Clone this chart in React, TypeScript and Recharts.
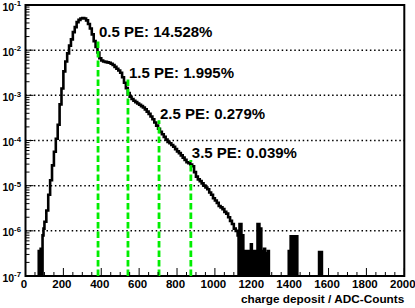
import React from 'react';
import { ComposedChart, Line, XAxis, YAxis, ReferenceLine, ReferenceArea, ReferenceDot } from 'recharts';

const FONT = '"Liberation Sans", Arial, Helvetica, sans-serif';

// Histogram contents as log10 of the normalised bin content (null = empty bin).
// Smooth body: 10-unit bins from 100 to 1110.
const MAIN_START = 100;
const MAIN_WIDTH = 10;
const mainBinsLog10: (number | null)[] = [
  -5.8, -5.55, -5.2, -4.88, -4.55, -4.25,
  -3.96, -3.65, -3.2, -2.85, -2.47, -2.25, -2.07, -1.9, -1.76, -1.6,
  -1.49, -1.38, -1.33, -1.3, -1.29, -1.3, -1.34, -1.42, -1.52, -1.65,
  -1.8, -1.93, -2.05, -2.18, -2.23, -2.25, -2.26, -2.27, -2.28, -2.3,
  -2.33, -2.37, -2.41, -2.45, -2.5, -2.6, -2.72, -2.84, -2.95, -3.03,
  -3.08, -3.12, -3.15, -3.18, -3.21, -3.24, -3.27, -3.31, -3.36, -3.41,
  -3.47, -3.53, -3.6, -3.67, -3.74, -3.81, -3.86, -3.92, -3.98, -4.03,
  -4.06, -4.1, -4.14, -4.19, -4.24, -4.28, -4.33, -4.38, -4.43, -4.48,
  -4.5, -4.53, -4.57, -4.7, -4.8, -4.86, -4.9, -4.95, -5.0, -5.04,
  -5.08, -5.15, -5.2, -5.28, -5.33, -5.38, -5.45, -5.48, -5.52, -5.58,
  -5.62, -5.7, -5.78, -5.85, -5.95, -6.0,
];
// Low-statistics regions: 5-unit bins
const FINE_WIDTH = 5;
const leftFineStart = 70;
const leftFineLog10: (number | null)[] = [-6.45, null, -6.4, null, -6.1, -5.95];
const tailFineStart = 1120;
const tailFineLog10: (number | null)[] = [
  -6.1, null, -5.85, -5.85, null, -6.1, null, -6.45, null, null,
  -6.45, null, -6.45, null, -6.3, null, -6.45, null, -6.45, null,
  null, -5.85, -5.85, null, -5.95, null, -6.45, null, -6.4, null,
  -6.5, null, -6.45, null,
];
const farTail1Start = 1390;
const farTail1Log10: (number | null)[] = [-6.45, null, -6.12, null, -6.12, null, -6.12, null, -6.12, null];
const farTail2Start = 1550;
const farTail2Log10: (number | null)[] = [-6.47, null, -6.47, null];

// photo-electron thresholds
const peCuts = [383, 541, 705, 873];
const peTopsLog10 = [-1.75, -2.64, -3.55, -4.43];
const peLabels = ['0.5 PE: 14.528%', '1.5 PE: 1.995%', '2.5 PE: 0.279%', '3.5 PE: 0.039%'];

const X_MIN = 0;
const X_MAX = 2000;
const xLabelTicks = [0, 200, 400, 600, 800, 1000, 1200, 1400, 1600, 1800, 2000];
const X_MINOR_STEP = 50;
const yDecades = [-7, -6, -5, -4, -3, -2, -1];
const yMinorMultipliers = [2, 3, 4, 5, 6, 7, 8, 9];
const gridDecades = [-6, -5, -4, -3, -2];
const X_TITLE = 'charge deposit / ADC-Counts';

const EMPTY = 1e-12;
const toVal = (L: number | null) => (L === null ? EMPTY : Math.pow(10, L));

const hist: { x: number; v: number }[] = [{ x: X_MIN, v: EMPTY }];
const addSeg = (start: number, width: number, vals: (number | null)[]) =>
  vals.forEach((L, i) => hist.push({ x: start + i * width, v: toVal(L) }));
addSeg(leftFineStart, FINE_WIDTH, leftFineLog10);
addSeg(MAIN_START, MAIN_WIDTH, mainBinsLog10);
addSeg(tailFineStart, FINE_WIDTH, tailFineLog10);
addSeg(farTail1Start, FINE_WIDTH, farTail1Log10);
addSeg(farTail2Start, FINE_WIDTH, farTail2Log10);
hist.push({ x: X_MAX, v: EMPTY });

const xTicks: number[] = [];
for (let v = X_MIN; v <= X_MAX; v += X_MINOR_STEP) xTicks.push(v);
const yTicks: number[] = [];
yDecades.forEach((d) => {
  yTicks.push(Math.pow(10, d));
  if (d < -1) yMinorMultipliers.forEach((m) => yTicks.push(m * Math.pow(10, d)));
});

const XTick = (props: any) => {
  const { x, y, payload } = props;
  const v = payload.value;
  const major = xLabelTicks.includes(v);
  return (
    <g>
      <line x1={x} x2={x} y1={y} y2={y - (major ? 8 : 4)} stroke="#000" strokeWidth={1} />
      {major && (
        <text x={x - 1.5} y={y + 12} textAnchor="middle" fontFamily={FONT} fontWeight="bold" fontSize={11.5} fill="#000">
          {v}
        </text>
      )}
    </g>
  );
};

const YTick = (props: any) => {
  const { x, y, payload } = props;
  const lg = Math.log10(payload.value);
  const e = Math.round(lg);
  const major = Math.abs(lg - e) < 1e-6;
  return (
    <g>
      <line x1={x} x2={x + (major ? 8 : 4)} y1={y} y2={y} stroke="#000" strokeWidth={1} />
      {major && (
        <text x={x - 4.5} y={y + 5.5} textAnchor="end" fontFamily={FONT} fontWeight="bold" fontSize={10.5} fill="#000">
          <tspan>10</tspan>
          <tspan dy={-4.3} fontSize={7.8}>{'-' + Math.abs(e)}</tspan>
        </text>
      )}
    </g>
  );
};

export default function App() {
  return (
    <div style={{ position: 'absolute', left: 0, top: 0, width: 415, height: 308, background: '#fff' }}>
      <ComposedChart width={415} height={308} margin={{ top: 5, right: 10.7, bottom: 0, left: 0 }}>
        <XAxis
          dataKey="x"
          type="number"
          domain={[X_MIN, X_MAX]}
          allowDataOverflow
          ticks={xTicks}
          interval={0}
          tick={<XTick />}
          tickLine={false}
          axisLine={false}
          tickSize={0}
          tickMargin={0}
          height={32}
          label={{
            content: (p: any) => {
              const vb = p.viewBox;
              return (
                <text x={vb.x + vb.width} y={vb.y + 27} textAnchor="end" fontFamily={FONT} fontWeight="bold" fontSize={11.8} fill="#000">
                  {X_TITLE}
                </text>
              );
            },
          }}
        />
        <YAxis
          type="number"
          scale="log"
          domain={[1e-7, 1e-1]}
          allowDataOverflow
          ticks={yTicks}
          interval={0}
          tick={<YTick />}
          tickLine={false}
          axisLine={false}
          tickSize={0}
          tickMargin={0}
          width={25.5}
        />
        {gridDecades.map((d) => (
          <ReferenceLine key={'g' + d} y={Math.pow(10, d)} stroke="#000" strokeWidth={1.5} strokeDasharray="1.5 2.7" />
        ))}
        <Line data={hist} dataKey="v" type="stepAfter" stroke="#000" strokeWidth={2.6} dot={false} isAnimationActive={false} />
        {peCuts.map((c, i) => (
          <ReferenceLine
            key={'pe' + i}
            segment={[
              { x: c, y: 1e-7 },
              { x: c, y: Math.pow(10, peTopsLog10[i]) },
            ]}
            stroke="#00ee00"
            strokeWidth={2.8}
            strokeDasharray="6.5 3"
          />
        ))}
        {peCuts.map((c, i) => (
          <ReferenceDot
            key={'lab' + i}
            x={c}
            y={Math.pow(10, peTopsLog10[i])}
            r={0}
            shape={(p: any) => (
              <text x={p.cx + 1} y={p.cy - 1.5} fontFamily={FONT} fontWeight="bold" fontSize={15} fill="#000">
                {peLabels[i]}
              </text>
            )}
          />
        ))}
        <ReferenceArea x1={X_MIN} x2={X_MAX} y1={1e-7} y2={1e-1} fill="none" stroke="#000" strokeWidth={2} ifOverflow="visible" />
      </ComposedChart>
    </div>
  );
}
